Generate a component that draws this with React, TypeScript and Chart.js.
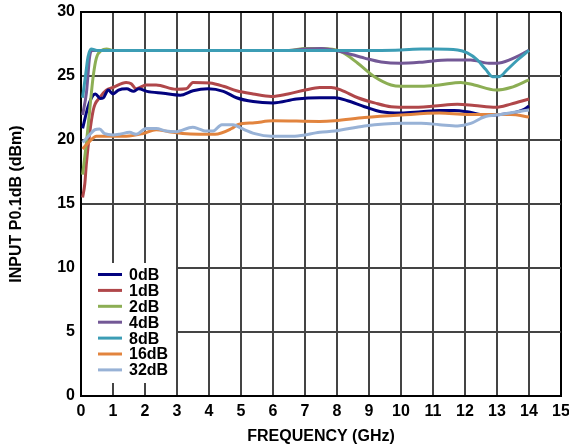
import React, { useEffect, useRef } from "react";
import { Chart, registerables } from "chart.js";

Chart.register(...registerables);

const seriesLabels = ["0dB", "1dB", "2dB", "4dB", "8dB", "16dB", "32dB"];
const seriesColors = ["#02027F", "#B0474A", "#8CAE54", "#735896", "#3C9DB5", "#E2843E", "#98B2D6"];
const seriesOrder = [5, 6, 4, 3, 1, 2, 0];

const freq0 = [0.05, 0.22, 0.38, 0.45, 0.6, 0.7, 0.85, 1.0, 1.17, 1.43, 1.64, 1.8, 2.06, 2.57, 3.1, 3.5, 3.97, 4.45, 4.86, 5.38, 6.0, 6.73, 7.46, 7.93, 8.33, 8.86, 9.38, 10.0, 10.63, 11.2, 11.66, 12.07, 12.6, 13.12, 13.63, 13.85, 14.0];
const vals0 = [20.9, 22.6, 23.5, 23.6, 23.25, 23.3, 23.9, 23.6, 23.9, 24.0, 23.8, 24.0, 23.8, 23.65, 23.5, 23.85, 24.0, 23.8, 23.3, 23.0, 22.9, 23.2, 23.3, 23.3, 23.07, 22.6, 22.2, 22.1, 22.2, 22.3, 22.3, 22.2, 21.95, 22.0, 22.2, 22.4, 22.65];

const freq1 = [0.05, 0.12, 0.17, 0.38, 0.58, 0.79, 1.0, 1.41, 1.57, 1.72, 2.04, 2.35, 2.97, 3.29, 3.5, 4.03, 4.45, 4.86, 5.38, 5.95, 6.47, 7.0, 7.46, 7.82, 8.13, 8.65, 9.17, 9.69, 10.3, 11.04, 11.76, 12.29, 12.96, 13.43, 14.0];
const vals1 = [15.5, 16.6, 18.2, 22.3, 23.3, 23.9, 24.1, 24.5, 24.4, 24.0, 24.3, 24.3, 23.96, 24.0, 24.5, 24.45, 24.2, 23.85, 23.6, 23.4, 23.6, 23.9, 24.1, 24.1, 23.9, 23.3, 22.9, 22.6, 22.55, 22.65, 22.8, 22.7, 22.55, 22.8, 23.2];

const freq2 = [0.05, 0.17, 0.27, 0.38, 0.48, 0.64, 0.8, 1.0, 6.5, 7.0, 7.5, 8.13, 8.65, 9.17, 9.69, 10.0, 10.63, 11.2, 11.87, 12.29, 12.96, 13.43, 14.0];
const vals2 = [17.3, 19.8, 22.3, 24.95, 26.4, 27.0, 27.1, 27.0, 27.0, 27.15, 27.15, 26.9, 26.0, 24.95, 24.3, 24.2, 24.2, 24.3, 24.5, 24.3, 23.9, 24.1, 24.7];

const freq4 = [0.05, 0.17, 0.27, 0.35, 1.0, 6.5, 7.0, 7.5, 8.13, 8.86, 9.38, 10.0, 10.73, 11.45, 12.18, 12.75, 13.0, 13.43, 14.0];
const vals4 = [21.95, 23.7, 26.5, 27.0, 27.0, 27.0, 27.1, 27.15, 26.9, 26.4, 26.1, 26.0, 26.1, 26.25, 26.25, 26.0, 26.0, 26.3, 27.0];

const freq8 = [0.05, 0.15, 0.22, 0.32, 0.5, 1.0, 8.0, 9.38, 10.0, 10.63, 11.04, 11.77, 12.07, 12.39, 12.65, 12.86, 13.07, 13.32, 13.64, 14.0];
const vals8 = [23.3, 25.2, 26.5, 27.1, 27.0, 27.0, 27.0, 27.0, 27.03, 27.1, 27.1, 27.03, 26.8, 26.25, 25.5, 24.95, 24.95, 25.5, 26.25, 27.0];

const freq16 = [0.05, 0.27, 0.48, 0.88, 1.41, 1.93, 2.35, 2.75, 3.18, 3.69, 4.19, 4.71, 4.9, 5.43, 6.0, 7.46, 7.93, 8.86, 10.0, 11.2, 12.07, 12.96, 13.43, 14.0];
const vals16 = [19.3, 19.9, 20.3, 20.3, 20.3, 20.5, 20.8, 20.65, 20.5, 20.45, 20.45, 20.9, 21.2, 21.35, 21.5, 21.45, 21.5, 21.75, 21.95, 22.1, 22.0, 22.0, 22.0, 21.8];

const freq32 = [0.05, 0.27, 0.43, 0.58, 0.74, 1.0, 1.2, 1.52, 1.72, 2.04, 2.35, 2.66, 2.97, 3.49, 3.7, 3.88, 4.13, 4.4, 4.75, 5.02, 5.43, 5.95, 6.68, 7.46, 7.93, 8.86, 10.0, 10.63, 11.2, 11.77, 12.18, 12.6, 13.12, 13.64, 14.0];
const vals32 = [19.8, 20.4, 20.8, 20.85, 20.5, 20.4, 20.45, 20.6, 20.45, 20.9, 20.9, 20.7, 20.65, 21.0, 20.85, 20.7, 20.7, 21.2, 21.2, 20.9, 20.5, 20.3, 20.3, 20.6, 20.7, 21.1, 21.3, 21.3, 21.2, 21.1, 21.3, 21.8, 22.0, 22.2, 22.35];

const seriesFreqs = [freq0, freq1, freq2, freq4, freq8, freq16, freq32];
const seriesVals = [vals0, vals1, vals2, vals4, vals8, vals16, vals32];

const xTitle = "FREQUENCY (GHz)";
const yTitle = "INPUT P0.1dB (dBm)";

const FONT = 'Arial, "Liberation Sans", sans-serif';

const insideLegend = {
  id: "insideLegend",
  afterDatasetsDraw(chart: any) {
    const ctx = chart.ctx;
    const area = chart.chartArea;
    ctx.save();
    ctx.fillStyle = "#ffffff";
    ctx.fillRect(area.left + 1, 263, 94, 120);
    ctx.font = "bold 16px " + FONT;
    ctx.textBaseline = "middle";
    ctx.textAlign = "left";
    chart.data.datasets.forEach((ds: any, i: number) => {
      const y = 274.5 + i * 15.9;
      ctx.strokeStyle = ds.borderColor;
      ctx.lineWidth = 3;
      ctx.beginPath();
      ctx.moveTo(98, y);
      ctx.lineTo(122, y);
      ctx.stroke();
      ctx.fillStyle = "#000";
      ctx.fillText(ds.label, 129, y + 1);
    });
    ctx.restore();
  },
};

export default function App() {
  const ref = useRef<HTMLCanvasElement | null>(null);
  useEffect(() => {
    if (!ref.current) return;
    const datasets = seriesLabels.map((label, i) => ({
      label,
      data: seriesFreqs[i].map((f, j) => ({ x: f, y: seriesVals[i][j] })),
      borderColor: seriesColors[i],
      backgroundColor: seriesColors[i],
      borderWidth: 3,
      pointRadius: 0,
      cubicInterpolationMode: "monotone" as const,
      order: seriesOrder[i],
      fill: false,
    }));
    const chart = new Chart(ref.current, {
      type: "line",
      data: { datasets },
      plugins: [insideLegend],
      options: {
        responsive: false,
        animation: false,
        devicePixelRatio: 1,
        layout: { padding: { top: 12, right: 8, left: 0, bottom: 0 } },
        plugins: { legend: { display: false }, tooltip: { enabled: false } },
        scales: {
          x: {
            type: "linear",
            min: 0,
            max: 15,
            afterFit: (s: any) => {
              s.height = 52;
              s.paddingLeft = 0;
              s.paddingRight = 0;
            },
            ticks: {
              stepSize: 1,
              color: "#000",
              font: { family: FONT, size: 16, weight: "bold" },
              padding: 6,
              maxRotation: 0,
            },
            grid: {
              drawTicks: false,
              lineWidth: 2,
              color: (c: any) => (c.tick && c.tick.value === 15 ? "#000" : "#444"),
            },
            border: { color: "#000", width: 2 },
            title: {
              display: true,
              text: xTitle,
              color: "#000",
              font: { family: FONT, size: 16, weight: "bold" },
              padding: { top: 0, bottom: 2 },
            },
          },
          y: {
            min: 0,
            max: 30,
            afterFit: (s: any) => {
              s.width = 81;
              s.paddingTop = 0;
              s.paddingBottom = 0;
            },
            ticks: {
              stepSize: 5,
              color: "#000",
              font: { family: FONT, size: 16, weight: "bold" },
              padding: 6,
            },
            grid: {
              drawTicks: false,
              lineWidth: 2,
              color: (c: any) => (c.tick && c.tick.value === 30 ? "#000" : "#444"),
            },
            border: { color: "#000", width: 2 },
            title: {
              display: true,
              text: yTitle,
              color: "#000",
              font: { family: FONT, size: 16, weight: "bold" },
              padding: { top: 7, bottom: 0 },
            },
          },
        },
      },
    });
    return () => chart.destroy();
  }, []);
  return (
    <div style={{ position: "absolute", left: 0, top: 0, width: 569, height: 448, background: "#fff" }}>
      <canvas ref={ref} width={569} height={448} />
    </div>
  );
}
